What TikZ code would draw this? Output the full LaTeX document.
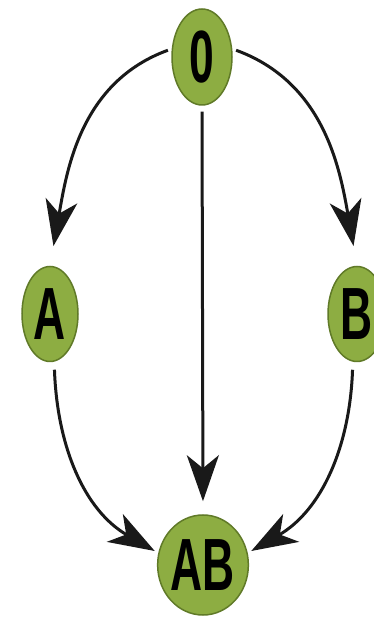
\documentclass[tikz,border=0pt]{standalone}
\usepackage{fontspec}
\usepackage{tikz}
\usetikzlibrary{shapes.geometric}
\usetikzlibrary{arrows.meta}
\newfontfamily\typefont[FakeStretch=0.6]{Liberation Sans}
\definecolor{typegreen}{RGB}{141,173,66}
\definecolor{typerim}{RGB}{96,122,40}
\tikzset{bloodtype/.style={ellipse, fill=typegreen, draw=typerim, line width=1.5pt,
inner sep=0pt, font=\typefont\bfseries\fontsize{74}{80}\selectfont},
inherit/.style={draw=black!90, line width=3pt,
-{Stealth[length=46pt, width=32pt, inset=13pt]}}}

\begin{document}
\begin{tikzpicture}[x=1pt, y=1pt]
	\useasboundingbox (0,0) rectangle (374,618);
	\node[bloodtype, minimum width=60pt, minimum height=96pt] (O) at (202,561) {0};
	\node[bloodtype, minimum width=56pt, minimum height=95pt] (A) at (50,304) {A};
	\node[bloodtype, minimum width=58pt, minimum height=95pt] (B) at (357,304) {B};
	\node[bloodtype, minimum width=90pt, minimum height=100pt] (AB) at (203,53) {AB};
	\draw[inherit, shorten >=20pt, shorten <=4pt] (O.165) to[out=200, in=80] (A.north);
	\draw[inherit, shorten >=20pt, shorten <=4pt] (O.15) to[out=-20, in=100] (B.north);
	\draw[inherit, shorten >=13pt, shorten <=6pt] (O.south) -- (AB.north);
	\draw[inherit, shorten >=4pt, shorten <=8pt] (A.-85) to[out=-88, in=150] (AB.165);
	\draw[inherit, shorten >=4pt, shorten <=8pt] (B.-95) to[out=-92, in=30] (AB.15);
\end{tikzpicture}
\end{document}
